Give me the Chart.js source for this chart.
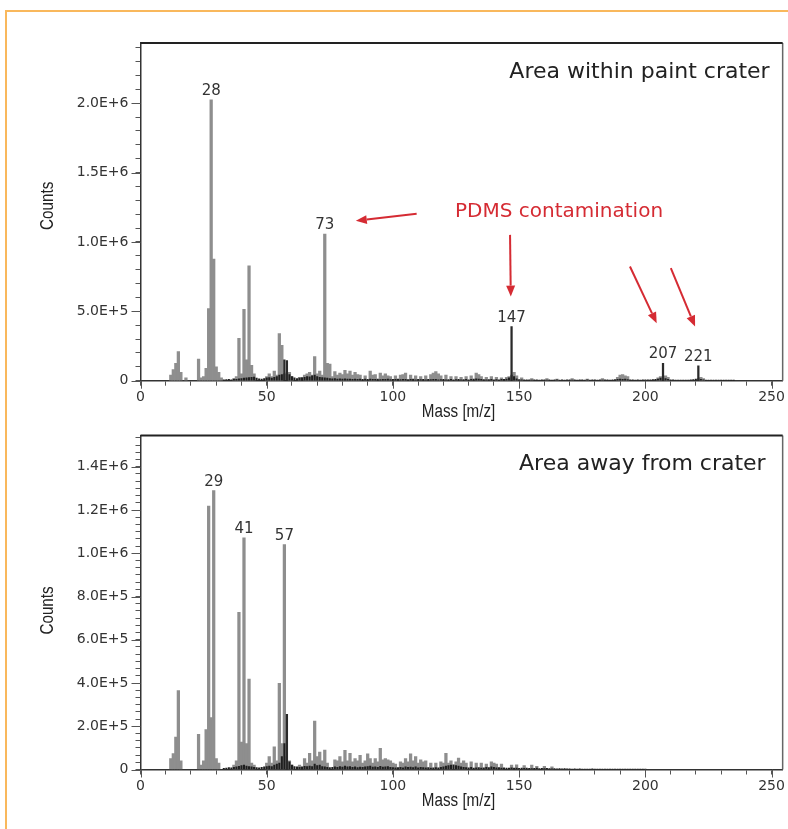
<!DOCTYPE html>
<html>
<head>
<meta charset="utf-8">
<script src="https://cdn.jsdelivr.net/npm/chart.js@4.4.1/dist/chart.umd.min.js"></script>
<style>
  html, body { margin: 0; padding: 0; background: #fff; }
  body { width: 788px; height: 829px; position: relative; overflow: hidden; }
  #frame { position: absolute; left: 5px; top: 10px; width: 800px; height: 830px;
           border-top: 2px solid #f9b85c; border-left: 2px solid #f9b85c; }
  canvas { position: absolute; left: 0; }
  #topChart { top: 0; }
  #bottomChart { top: 420px; }
</style>
</head>
<body>
<div id="frame"></div>
<canvas id="topChart" width="788" height="430"></canvas>
<canvas id="bottomChart" width="788" height="409"></canvas>
<script>
// ---- top spectrum: area within paint crater ----
const topMass = [12, 13, 14, 15, 16, 18, 23, 24, 25, 26, 27, 28, 29, 30, 31, 32, 37, 38, 39, 40,
  41, 42, 43, 44, 45, 50, 51, 52, 53, 54, 55, 56, 59, 60, 63, 65, 66, 67, 68, 69,
  70, 71, 72, 73, 74, 75, 76, 77, 78, 79, 80, 81, 82, 83, 84, 85, 86, 87, 89, 91,
  92, 93, 95, 96, 97, 98, 99, 101, 103, 104, 105, 107, 109, 111, 113, 115, 116, 117, 118, 119,
  121, 123, 125, 127, 129, 131, 133, 134, 135, 137, 139, 141, 143, 145, 146, 148, 149, 151, 155, 161,
  165, 171, 177, 183, 189, 190, 191, 192, 193, 205, 206, 208, 209, 222, 223];
const topCounts = [40000, 80000, 125000, 210000, 60000, 20000, 155000, 20000, 30000, 90000, 520000, 2025000, 876000, 100000, 60000, 20000, 15000, 30000, 306000, 50000,
  515000, 150000, 828000, 110000, 50000, 30000, 50000, 30000, 70000, 40000, 340000, 255000, 60000, 30000, 25000, 40000, 50000, 60000, 40000, 173000,
  50000, 70000, 40000, 1056000, 125000, 120000, 30000, 65000, 40000, 55000, 45000, 75000, 50000, 70000, 40000, 60000, 45000, 40000, 35000, 70000,
  40000, 45000, 55000, 35000, 50000, 35000, 30000, 35000, 40000, 45000, 55000, 40000, 35000, 30000, 35000, 45000, 55000, 65000, 50000, 35000,
  40000, 30000, 30000, 25000, 30000, 35000, 55000, 45000, 30000, 25000, 30000, 25000, 20000, 25000, 30000, 60000, 35000, 20000, 15000, 15000,
  12000, 15000, 12000, 15000, 25000, 40000, 45000, 35000, 30000, 20000, 30000, 35000, 25000, 25000, 15000];
// sharp dark lines
const topDarkMass = [57, 58, 147, 207, 221];
const topDarkCounts = [150000, 145000, 390000, 125000, 108000];
// dark baseline noise, one value per mass starting at topNoiseStart
const topNoiseStart = 33;
const topNoise = [6000, 8000, 10000, 7000, 12000, 9000, 14000, 16000, 18000, 20000, 22000, 24000,
  26000, 18000, 14000, 12000, 15000, 20000, 22000, 18000, 25000, 30000, 40000, 45000,
  50000, 60000, 45000, 30000, 20000, 16000, 18000, 22000, 25000, 30000, 28000, 35000,
  40000, 30000, 25000, 22000, 20000, 18000, 16000, 14000, 15000, 12000, 14000, 12000,
  13000, 11000, 12000, 10000, 12000, 9000, 11000, 10000, 12000, 9000, 11000, 10000,
  9000, 11000, 8000, 10000, 9000, 12000, 8000, 10000, 9000, 11000, 8000, 9000,
  10000, 8000, 9000, 11000, 7000, 9000, 8000, 10000, 7000, 9000, 8000, 10000,
  9000, 7000, 8000, 9000, 7000, 8000, 10000, 7000, 8000, 9000, 7000, 8000,
  9000, 7000, 10000, 12000, 14000, 11000, 9000, 8000, 7000, 8000, 9000, 7000,
  8000, 7000, 9000, 10000, 12000, 20000, 40000, 30000, 14000, 8000, 7000, 6000,
  7000, 6000, 5000, 7000, 6000, 5000, 6000, 7000, 5000, 6000, 5000, 6000,
  7000, 5000, 6000, 5000, 7000, 6000, 5000, 6000, 5000, 7000, 6000, 5000,
  6000, 5000, 7000, 6000, 5000, 6000, 5000, 6000, 7000, 5000, 6000, 8000,
  10000, 12000, 9000, 11000, 8000, 7000, 6000, 5000, 6000, 5000, 6000, 7000,
  6000, 7000, 8000, 9000, 12000, 18000, 20000, 15000, 10000, 7000, 6000, 5000,
  5000, 4000, 5000, 4000, 5000, 6000, 8000, 12000, 15000, 10000, 6000, 5000,
  4000, 4000, 3000, 4000, 3000, 3000, 2000, 3000, 2000, 2000, 2000];

// ---- bottom spectrum: area away from crater ----
const botMass = [12, 13, 14, 15, 16, 23, 24, 25, 26, 27, 28, 29, 30, 31, 37, 38, 39, 40, 41, 42,
  43, 44, 45, 50, 51, 52, 53, 54, 55, 56, 57, 59, 60, 63, 65, 66, 67, 68, 69, 70,
  71, 72, 73, 74, 77, 78, 79, 80, 81, 82, 83, 84, 85, 86, 87, 88, 89, 90, 91, 92,
  93, 94, 95, 96, 97, 98, 99, 100, 101, 103, 104, 105, 106, 107, 108, 109, 110, 111, 112, 113,
  115, 117, 119, 120, 121, 122, 123, 125, 126, 127, 128, 129, 131, 133, 135, 137, 139, 140, 141, 143,
  147, 149, 152, 155, 157, 160, 163];
const botCounts = [50000, 74000, 150000, 365000, 40000, 163000, 20000, 40000, 185000, 1218000, 240000, 1290000, 50000, 30000, 20000, 40000, 727000, 127000, 1071000, 120000,
  418000, 30000, 20000, 30000, 60000, 30000, 105000, 40000, 398000, 120000, 1040000, 40000, 20000, 20000, 50000, 30000, 75000, 40000, 224000, 60000,
  80000, 40000, 90000, 30000, 45000, 40000, 60000, 35000, 89000, 40000, 75000, 35000, 50000, 40000, 66000, 30000, 40000, 73000, 50000, 30000,
  50000, 35000, 98000, 45000, 50000, 45000, 40000, 30000, 25000, 35000, 30000, 50000, 35000, 73000, 40000, 60000, 30000, 45000, 35000, 40000,
  30000, 30000, 35000, 30000, 75000, 30000, 40000, 35000, 53000, 30000, 40000, 30000, 35000, 30000, 30000, 25000, 36000, 30000, 25000, 25000,
  20000, 22000, 18000, 20000, 15000, 15000, 12000];
const botDarkMass = [58];
const botDarkCounts = [255000];
const botNoiseStart = 33;
const botNoise = [5000, 7000, 9000, 8000, 10000, 12000, 15000, 18000, 20000, 16000, 14000, 12000,
  10000, 9000, 8000, 10000, 12000, 14000, 16000, 14000, 20000, 25000, 30000, 60000,
  120000, 60000, 35000, 20000, 14000, 12000, 10000, 12000, 15000, 14000, 16000, 14000,
  25000, 18000, 20000, 14000, 12000, 10000, 9000, 10000, 12000, 10000, 14000, 11000,
  16000, 12000, 14000, 10000, 12000, 9000, 11000, 10000, 12000, 14000, 16000, 11000,
  12000, 10000, 15000, 11000, 12000, 13000, 10000, 9000, 8000, 9000, 10000, 8000,
  12000, 10000, 11000, 9000, 12000, 8000, 10000, 9000, 8000, 9000, 7000, 8000,
  9000, 8000, 10000, 12000, 16000, 18000, 20000, 22000, 18000, 16000, 12000, 10000,
  9000, 8000, 10000, 7000, 8000, 9000, 7000, 8000, 10000, 9000, 12000, 10000,
  8000, 9000, 7000, 8000, 6000, 7000, 8000, 6000, 7000, 5000, 6000, 5000,
  6000, 5000, 4000, 5000, 6000, 4000, 5000, 4000, 5000, 4000, 3000, 4000,
  3000, 4000, 3000, 4000, 3000, 3000, 2000, 3000, 2000, 3000, 2000, 2000,
  2000, 2000, 3000, 2000, 2000, 2000, 1500, 2000, 1500, 1500, 2000, 1500,
  1500, 1500, 1000, 1500, 1000, 1000, 1500, 1000, 1000, 1000, 1000, 1000];

// axis ticks
const massTicks = [0, 10, 20, 30, 40, 50, 60, 70, 80, 90, 100, 110, 120, 130, 140, 150, 160, 170, 180, 190, 200, 210, 220, 230, 240, 250];
const massLabels = [0, 50, 100, 150, 200, 250];

// labelled peaks and annotations (data units)
const topPeakLabels = [28, 73, 147, 207, 221];
const botPeakLabels = [29, 41, 57];
const pdmsText = { text: 'PDMS contamination', x: 124.6, y: 1183000 };
const arrowsTop = [
  { from: [109.4, 1203000], to: [85.3, 1152000] },
  { from: [146.4, 1051000], to: [146.7, 606000] },
  { from: [193.9, 823000], to: [204.5, 414000] },
  { from: [210.1, 811000], to: [219.7, 390000] }
];

Chart.defaults.font.family = '"DejaVu Sans", sans-serif';
Chart.defaults.color = '#333';

function pts(mass, counts) {
  return mass.map((m, i) => ({ x: m, y: counts[i] }));
}
function noisePts(start, vals) {
  return vals.map((v, i) => ({ x: start + i, y: v }));
}
function expLabel(v) {
  return v === 0 ? '0' : v.toExponential(1).toUpperCase();
}

const red = '#d52b33';
const narrowFont = '19px "Liberation Sans", Arial, sans-serif';

const specPlugin = {
  id: 'spec',
  afterDraw(chart, args, opts) {
    const { ctx, chartArea: a, scales: { x, y } } = chart;
    ctx.save();
    // plot frame
    ctx.strokeStyle = '#666';
    ctx.lineWidth = 1.5;
    ctx.beginPath();
    ctx.moveTo(a.right, a.top);
    ctx.lineTo(a.right, a.bottom);
    ctx.stroke();
    ctx.strokeStyle = '#222';
    ctx.lineWidth = 2;
    ctx.beginPath();
    ctx.moveTo(a.left, a.top);
    ctx.lineTo(a.right, a.top);
    ctx.stroke();

    // longer major ticks
    ctx.strokeStyle = '#555';
    ctx.lineWidth = 1;
    ctx.beginPath();
    opts.majorY.forEach(v => {
      const py = Math.round(y.getPixelForValue(v)) + 0.5;
      ctx.moveTo(a.left - 9, py);
      ctx.lineTo(a.left, py);
    });
    massLabels.forEach(v => {
      const px = Math.round(x.getPixelForValue(v)) + 0.5;
      ctx.moveTo(px, a.bottom);
      ctx.lineTo(px, a.bottom + 8);
    });
    ctx.stroke();

    // condensed axis titles
    ctx.fillStyle = '#222';
    ctx.font = narrowFont;
    ctx.textAlign = 'center';
    ctx.textBaseline = 'middle';
    ctx.save();
    ctx.translate((a.left + a.right) / 2 - 3, a.bottom + opts.xTitleOffset);
    ctx.scale(0.8, 1);
    ctx.fillText('Mass [m/z]', 0, 0);
    ctx.restore();
    ctx.save();
    ctx.translate(48, (a.top + a.bottom) / 2 + opts.yTitleShift);
    ctx.rotate(-Math.PI / 2);
    ctx.scale(0.8, 1);
    ctx.fillText('Counts', 0, 0);
    ctx.restore();

    // panel title
    ctx.fillStyle = '#222';
    ctx.font = '22px "DejaVu Sans"';
    ctx.textAlign = 'right';
    ctx.textBaseline = 'alphabetic';
    ctx.fillText(opts.title, a.right - opts.titleInset, a.top + 35);

    // peak labels
    ctx.font = '15px "DejaVu Sans"';
    ctx.textAlign = 'center';
    ctx.fillStyle = '#333';
    opts.peaks.forEach(m => {
      let top = 0;
      chart.data.datasets.forEach(ds => ds.data.forEach(p => { if (p.x === m && p.y > top) top = p.y; }));
      ctx.fillText(String(m), x.getPixelForValue(m), y.getPixelForValue(top) - 5);
    });

    // red annotation
    if (opts.note) {
      ctx.fillStyle = red;
      ctx.font = '20px "DejaVu Sans"';
      ctx.textAlign = 'left';
      ctx.fillText(opts.note.text, x.getPixelForValue(opts.note.x), y.getPixelForValue(opts.note.y));
    }
    (opts.arrows || []).forEach(ar => {
      const x1 = x.getPixelForValue(ar.from[0]), y1 = y.getPixelForValue(ar.from[1]);
      const x2 = x.getPixelForValue(ar.to[0]), y2 = y.getPixelForValue(ar.to[1]);
      const ang = Math.atan2(y2 - y1, x2 - x1);
      const hl = 11, hw = 4.5;
      ctx.strokeStyle = red;
      ctx.fillStyle = red;
      ctx.lineWidth = 2;
      ctx.beginPath();
      ctx.moveTo(x1, y1);
      ctx.lineTo(x2 - Math.cos(ang) * hl, y2 - Math.sin(ang) * hl);
      ctx.stroke();
      ctx.beginPath();
      ctx.moveTo(x2, y2);
      ctx.lineTo(x2 - Math.cos(ang) * hl - Math.sin(ang) * hw, y2 - Math.sin(ang) * hl + Math.cos(ang) * hw);
      ctx.lineTo(x2 - Math.cos(ang) * hl + Math.sin(ang) * hw, y2 - Math.sin(ang) * hl - Math.cos(ang) * hw);
      ctx.closePath();
      ctx.fill();
    });
    ctx.restore();
  }
};

function makeSpectrum(id, cfg) {
  const ctx = document.getElementById(id).getContext('2d');
  return new Chart(ctx, {
    type: 'bar',
    data: {
      datasets: [
        { label: 'dark', data: pts(cfg.darkMass, cfg.darkCounts), backgroundColor: '#2a2a2a', barThickness: 1.6, grouped: false },
        { label: 'noise', data: noisePts(cfg.noiseStart, cfg.noise), backgroundColor: '#1e1e1e', barThickness: 1.4, grouped: false },
        { label: 'peaks', data: pts(cfg.mass, cfg.counts), backgroundColor: '#8e8e8e', barThickness: 2.6, grouped: false }
      ]
    },
    options: {
      responsive: false,
      animation: false,
      layout: { padding: { left: 0, top: cfg.padTop, right: 5, bottom: 0 } },
      plugins: {
        legend: { display: false },
        tooltip: { enabled: false },
        spec: {
          title: cfg.title, titleInset: cfg.titleInset, peaks: cfg.peaks, note: cfg.note, arrows: cfg.arrows,
          majorY: cfg.majorY, xTitleOffset: cfg.xTitleOffset, yTitleShift: cfg.yTitleShift
        }
      },
      scales: {
        x: {
          type: 'linear',
          min: 0,
          max: 254.4,
          offset: false,
          afterFit: s => { s.height = cfg.xHeight; },
          afterBuildTicks: s => { s.ticks = massTicks.map(v => ({ value: v })); },
          ticks: {
            autoSkip: false,
            maxRotation: 0,
            padding: 3,
            color: '#333',
            font: { size: 14 },
            callback: v => massLabels.includes(v) ? String(v) : ''
          },
          grid: { offset: false, drawOnChartArea: false, drawTicks: true, tickLength: 5, tickColor: '#555' },
          border: { display: true, color: '#333', width: 1.5 }
        },
        y: {
          min: 0,
          max: cfg.yMax,
          afterFit: s => { s.width = 140.5; },
          afterBuildTicks: s => { s.ticks = cfg.yTicks.map(v => ({ value: v })); },
          ticks: {
            autoSkip: false,
            padding: 7,
            color: '#333',
            font: { size: 14 },
            callback: (v, i) => cfg.yLabel(v, i)
          },
          grid: { drawOnChartArea: false, drawTicks: true, tickLength: 5, tickColor: '#555' },
          border: { display: true, color: '#333', width: 1.5 }
        }
      }
    },
    plugins: [specPlugin]
  });
}

// y tick positions (minor + major)
const topYTicks = [];
for (let i = 0; i <= 24; i++) topYTicks.push(i * 100000);
const topYMajor = [0, 500000, 1000000, 1500000, 2000000];
const botYTicks = [];
for (let i = 0; i <= 46; i++) botYTicks.push(i * 200000 / 6);
const botYMajor = [0, 200000, 400000, 600000, 800000, 1000000, 1200000, 1400000];

makeSpectrum('topChart', {
  mass: topMass, counts: topCounts,
  darkMass: topDarkMass, darkCounts: topDarkCounts,
  noiseStart: topNoiseStart, noise: topNoise,
  yMax: 2434000, yTicks: topYTicks, majorY: topYMajor,
  yLabel: (v, i) => i % 5 === 0 ? expLabel(i * 100000) : '',
  padTop: 43, xHeight: 49.3, yTitleShift: -6, xTitleOffset: 31,
  title: 'Area within paint crater', titleInset: 13,
  peaks: topPeakLabels, note: pdmsText, arrows: arrowsTop
});

makeSpectrum('bottomChart', {
  mass: botMass, counts: botCounts,
  darkMass: botDarkMass, darkCounts: botDarkCounts,
  noiseStart: botNoiseStart, noise: botNoise,
  yMax: 1545000, yTicks: botYTicks, majorY: botYMajor,
  yLabel: (v, i) => i % 6 === 0 ? expLabel(i / 6 * 200000) : '',
  padTop: 12.7, xHeight: 59.5, yTitleShift: 8, xTitleOffset: 31,
  title: 'Area away from crater', titleInset: 17,
  peaks: botPeakLabels, note: null, arrows: []
});
</script>
</body>
</html>
